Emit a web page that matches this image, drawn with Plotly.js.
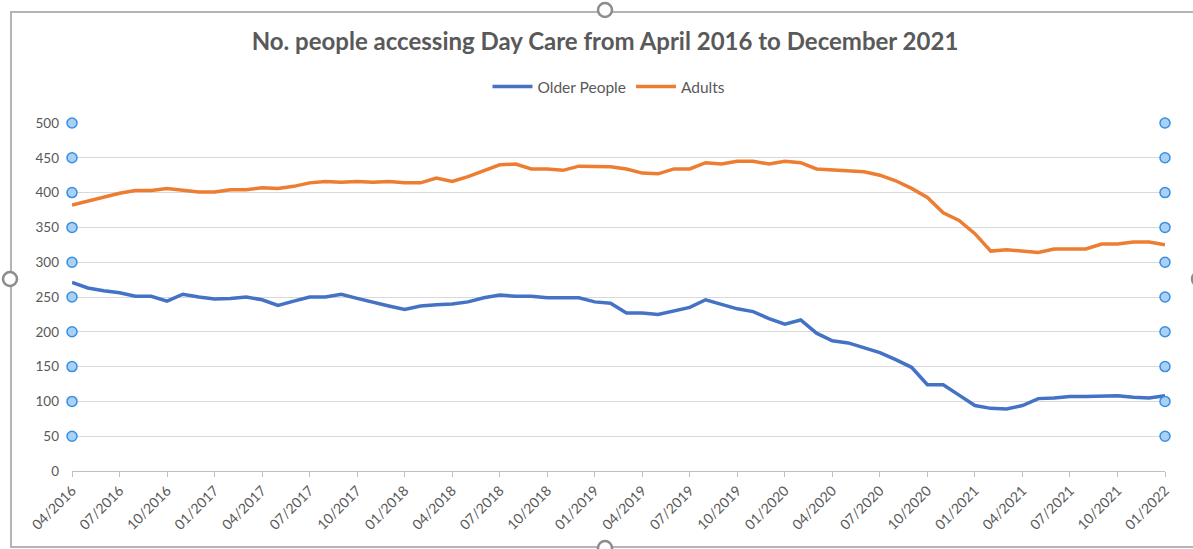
<!DOCTYPE html>
<html>
<head>
<meta charset="utf-8">
<script src="https://cdn.plot.ly/plotly-3.0.1.min.js"></script>
<style>html,body{margin:0;padding:0;background:#fff;}#chart{width:1193px;height:549px;}</style>
</head>
<body>
<div id="chart"></div>
<script>
var months = ["04/2016","05/2016","06/2016","07/2016","08/2016","09/2016","10/2016","11/2016","12/2016",
"01/2017","02/2017","03/2017","04/2017","05/2017","06/2017","07/2017","08/2017","09/2017","10/2017","11/2017","12/2017",
"01/2018","02/2018","03/2018","04/2018","05/2018","06/2018","07/2018","08/2018","09/2018","10/2018","11/2018","12/2018",
"01/2019","02/2019","03/2019","04/2019","05/2019","06/2019","07/2019","08/2019","09/2019","10/2019","11/2019","12/2019",
"01/2020","02/2020","03/2020","04/2020","05/2020","06/2020","07/2020","08/2020","09/2020","10/2020","11/2020","12/2020",
"01/2021","02/2021","03/2021","04/2021","05/2021","06/2021","07/2021","08/2021","09/2021","10/2021","11/2021","12/2021",
"01/2022"];

var olderPeople = [271,263,259,256,251,251,244,254,250,247,248,250,246,238,244,250,250,254,248,242,237,
232,237,239,240,243,249,253,251,251,249,249,249,243,241,227,227,225,230,235,246,239,233,229,219,
211,217,198,187,184,177,170,160,149,124,124,109,94,90,89,94,104,105,107,107,108,108,106,105,108];

var adults = [382,388,394,399,403,403,406,404,401,401,404,404,407,406,409,414,416,415,416,415,416,
414,414,421,416,423,432,440,441,434,434,432,438,437,437,434,428,427,434,434,443,441,445,445,441,
445,443,434,433,431,430,425,417,406,393,371,360,341,316,318,316,314,319,319,319,326,326,329,329,325];

var xTickLabels = ["04/2016","07/2016","10/2016","01/2017","04/2017","07/2017","10/2017","01/2018",
"04/2018","07/2018","10/2018","01/2019","04/2019","07/2019","10/2019","01/2020","04/2020","07/2020",
"10/2020","01/2021","04/2021","07/2021","10/2021","01/2022"];

var yTickValues = [0,50,100,150,200,250,300,350,400,450,500];

var titleText = "No. people accessing Day Care from April 2016 to December 2021";

var FONT = "Lato, 'Open Sans', sans-serif";
var GREY = "#595959";

var handleY = yTickValues.filter(function(v){return v > 0;});
var firstCat = months[0], lastCat = months[months.length-1];

var traces = [
  {x: months, y: olderPeople, name: "Older People", type: "scatter", mode: "lines",
   line: {color: "#4472c4", width: 3.5}, cliponaxis: false, hoverinfo: "skip"},
  {x: months, y: adults, name: "Adults", type: "scatter", mode: "lines",
   line: {color: "#ed7d31", width: 3.5}, cliponaxis: false, hoverinfo: "skip"},
  {x: handleY.map(function(){return firstCat;}).concat(handleY.map(function(){return lastCat;})),
   y: handleY.concat(handleY), type: "scatter", mode: "markers", showlegend: false,
   cliponaxis: false, hoverinfo: "skip",
   marker: {size: 10, color: "#a9d1f5", line: {color: "#3a8ee0", width: 1.5}}}
];

var L = 72, R = 28, T = 123, B = 78, W = 1193, H = 549;
function px(x){ return (x - L) / (W - L - R); }
function py(y){ return (H - B - y) / (H - T - B); }
function circ(cx, cy, r){
  return {type: "circle", xref: "paper", yref: "paper",
    x0: px(cx - r), x1: px(cx + r), y0: py(cy + r), y1: py(cy - r),
    fillcolor: "#ffffff", line: {color: "#8c8c8c", width: 2.5}, layer: "above"};
}

var layout = {
  width: W, height: H,
  margin: {l: L, r: R, t: T, b: B, pad: 0},
  paper_bgcolor: "#ffffff", plot_bgcolor: "#ffffff",
  font: {family: FONT, color: GREY, size: 13},
  title: {text: titleText, x: 605 / W, xref: "container", xanchor: "center",
          y: 1 - 42 / H, yref: "container", yanchor: "middle",
          font: {family: FONT, size: 24, color: GREY, weight: "bold"}},
  showlegend: true,
  legend: {orientation: "h", x: px(609), xanchor: "center", y: py(87), yanchor: "middle",
           itemwidth: 40,
           font: {family: FONT, size: 15.5, color: GREY}, bgcolor: "rgba(0,0,0,0)", traceorder: "normal"},
  xaxis: {type: "category", categoryorder: "array", categoryarray: months,
          range: [0, months.length - 1], showgrid: false, zeroline: false,
          showline: true, linecolor: "#bfbfbf", linewidth: 1,
          ticks: "outside", ticklen: 5, tickcolor: "#bfbfbf", tickwidth: 1,
          tickmode: "array", tickvals: xTickLabels, ticktext: xTickLabels,
          tickangle: -45, tickfont: {family: FONT, size: 14, color: GREY}, fixedrange: true},
  yaxis: {range: [0, 500], tickmode: "array", tickvals: yTickValues,
          showgrid: true, gridcolor: "#d9d9d9", gridwidth: 1, zeroline: false, showline: false,
          ticks: "", ticklabelstandoff: 12, tickfont: {family: FONT, size: 13.5, color: GREY}, fixedrange: true},
  shapes: [
    {type: "rect", xref: "paper", yref: "paper", x0: px(11), x1: px(1210), y0: py(547), y1: py(12),
     line: {color: "#b4b4b4", width: 2}, fillcolor: "rgba(0,0,0,0)", layer: "below"},
    circ(605, 10, 7), circ(10, 279, 7), circ(1199, 279, 7), circ(605, 548, 7)
  ]
};

Plotly.newPlot("chart", traces, layout, {displayModeBar: false, staticPlot: true});
</script>
</body>
</html>
